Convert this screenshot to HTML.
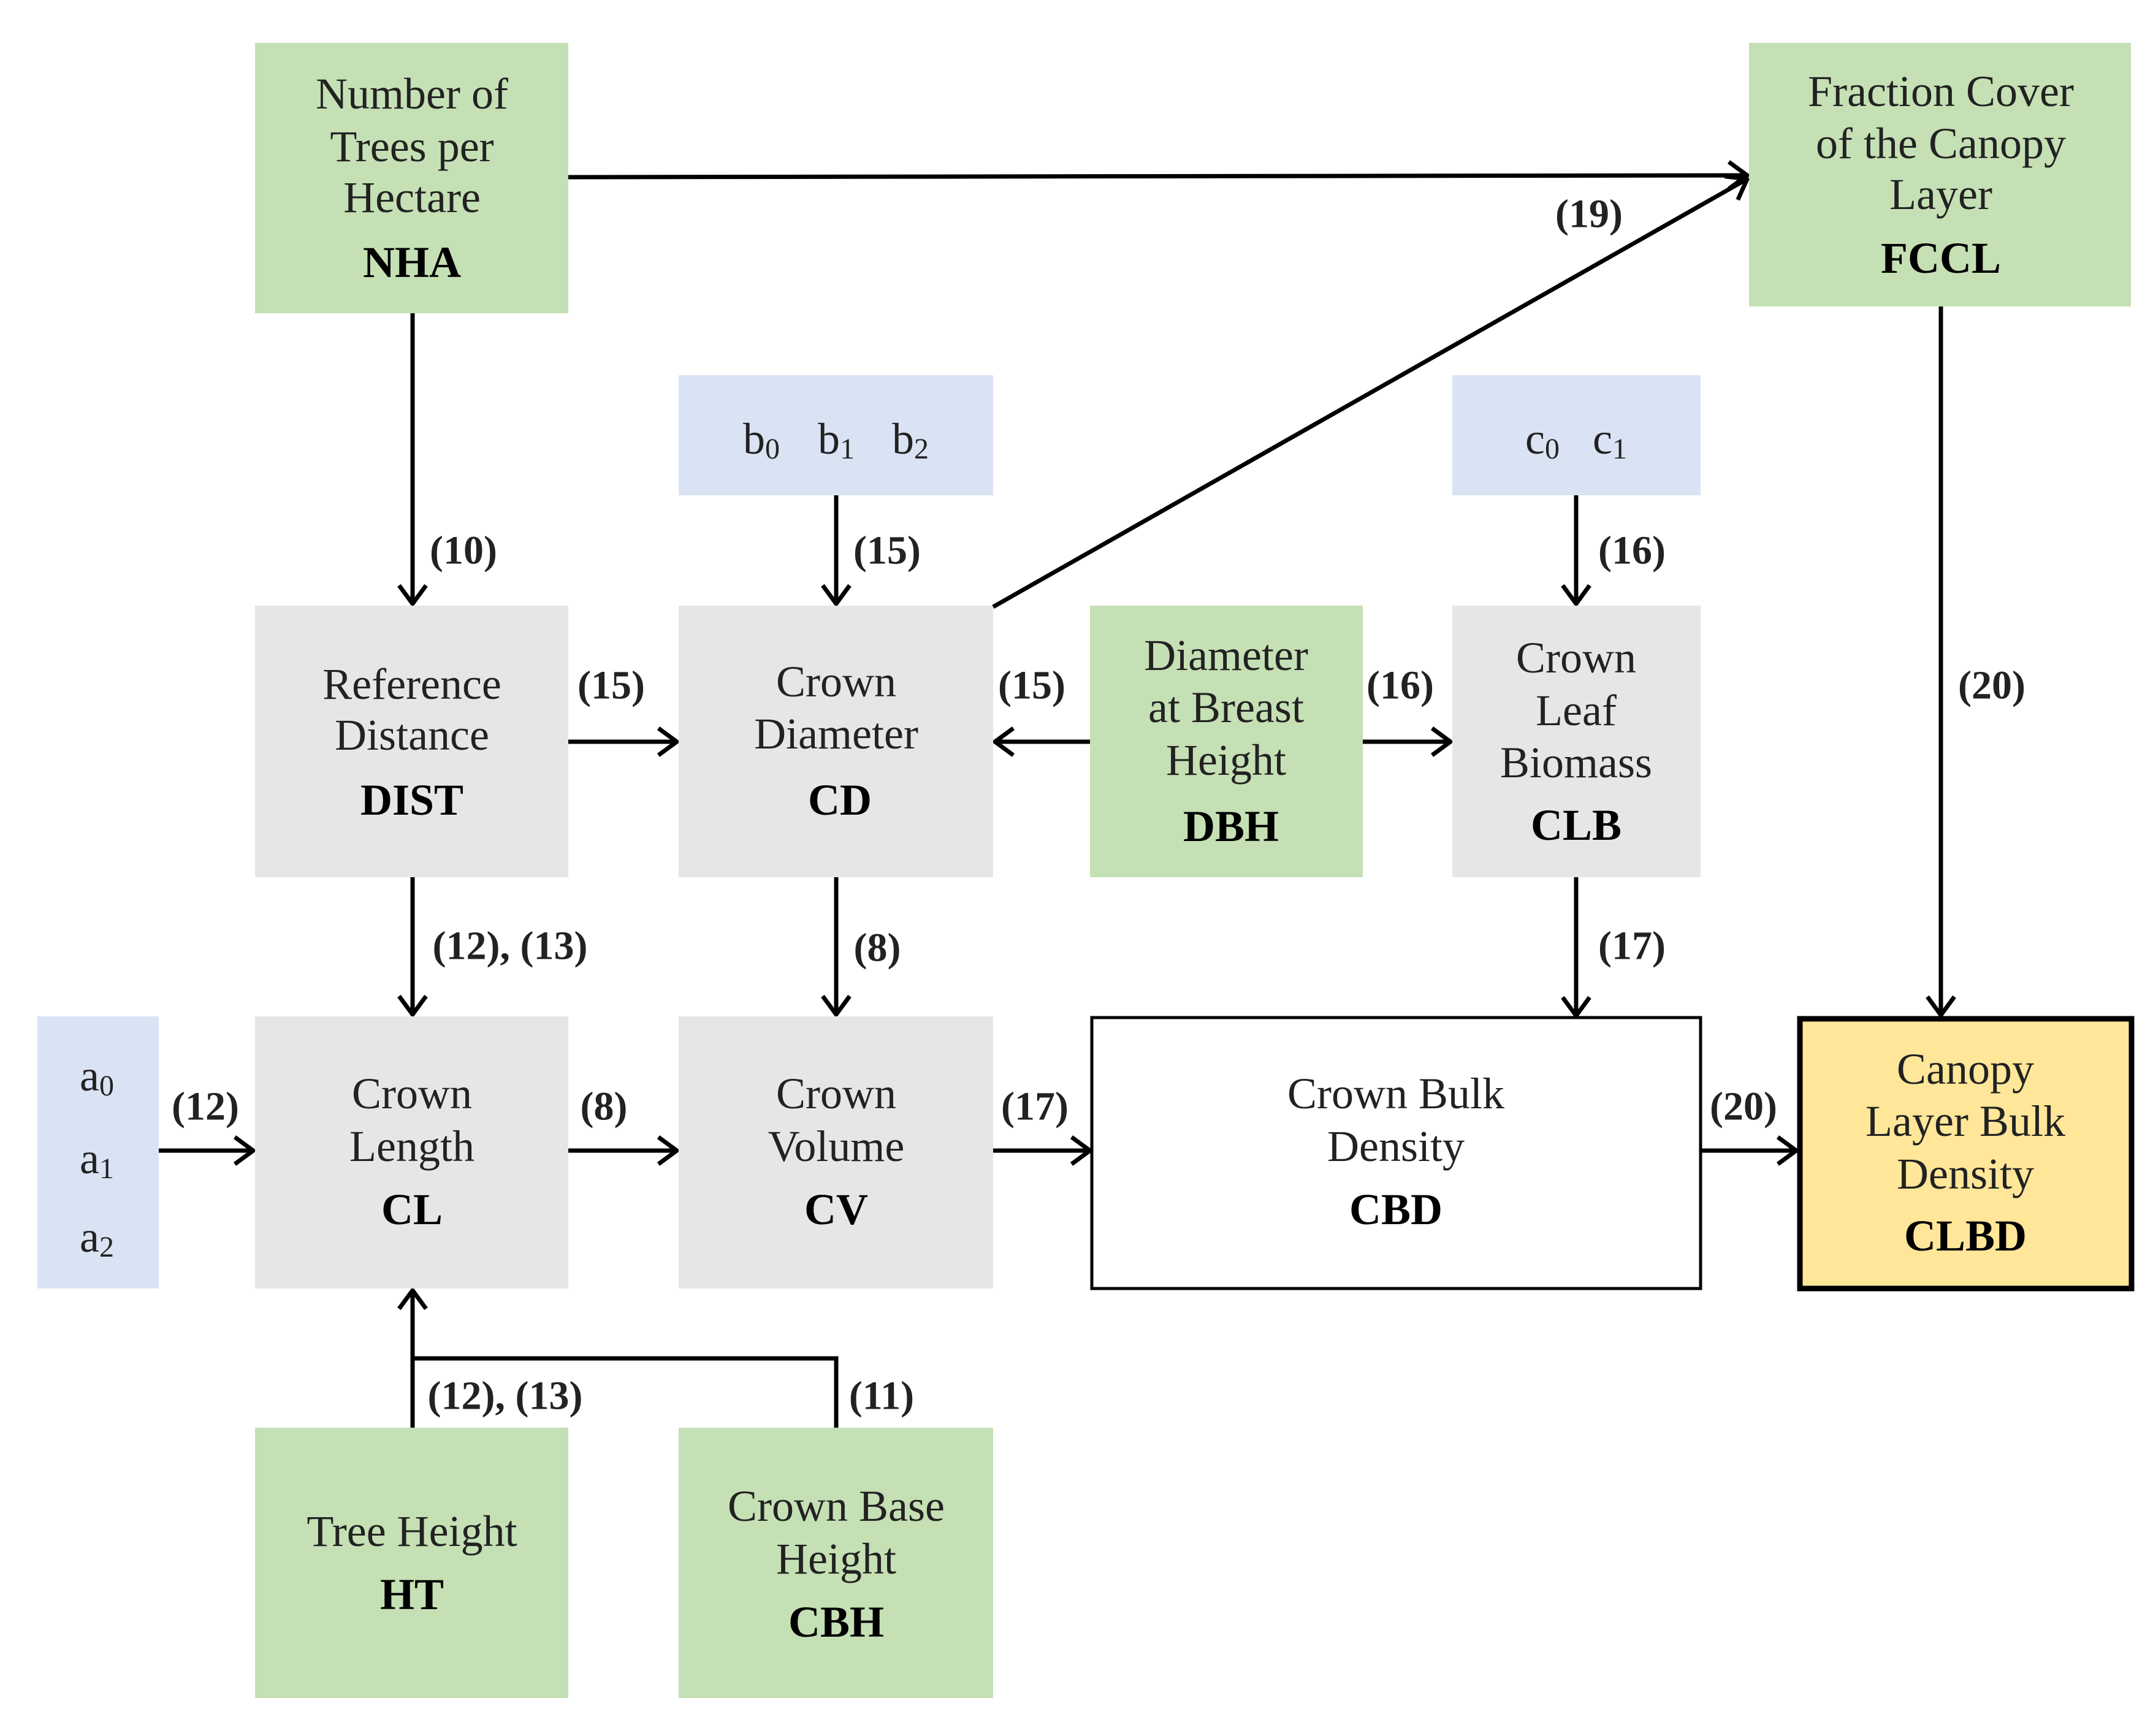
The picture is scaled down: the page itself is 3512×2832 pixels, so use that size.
<!DOCTYPE html>
<html><head><meta charset="utf-8"><style>html,body{margin:0;padding:0;background:#fff}svg{display:block}</style></head>
<body>
<svg width="3512" height="2832" viewBox="0 0 3512 2832" xmlns="http://www.w3.org/2000/svg" font-family="'Liberation Serif', serif">
<defs>
<marker id="a" viewBox="0 0 36 50" refX="33" refY="25" markerWidth="36" markerHeight="50" markerUnits="userSpaceOnUse" orient="auto">
<path d="M3 3 L33 25 L3 47" fill="none" stroke="#000" stroke-width="7"/>
</marker>
</defs>
<g stroke="none">
<rect x="416" y="70" width="511" height="441" fill="#c5e0b4"/>
<rect x="2853" y="70" width="623" height="430" fill="#c5e0b4"/>
<rect x="1107" y="612" width="513" height="196" fill="#dae3f3"/>
<rect x="2369" y="612" width="405" height="196" fill="#dae3f3"/>
<rect x="416" y="988" width="511" height="443" fill="#e7e6e6"/>
<rect x="1107" y="988" width="513" height="443" fill="#e7e6e6"/>
<rect x="1778" y="988" width="445" height="443" fill="#c5e0b4"/>
<rect x="2369" y="988" width="405" height="443" fill="#e7e6e6"/>
<rect x="61" y="1658" width="198" height="444" fill="#dae3f3"/>
<rect x="416" y="1658" width="511" height="444" fill="#e7e6e6"/>
<rect x="1107" y="1658" width="513" height="444" fill="#e7e6e6"/>
<rect x="416" y="2329" width="511" height="441" fill="#c5e0b4"/>
<rect x="1107" y="2329" width="513" height="441" fill="#c5e0b4"/>
</g>
<rect x="1781" y="1660" width="993" height="442" fill="#fff" stroke="#000" stroke-width="5"/>
<rect x="2936" y="1662" width="541" height="440" fill="#ffe699" stroke="#000" stroke-width="9"/>
<g stroke="#000" stroke-width="7" fill="none" marker-end="url(#a)">
<line x1="927" y1="289" x2="2850" y2="286"/>
<line x1="1620" y1="990" x2="2850" y2="292"/>
<line x1="673" y1="511" x2="673" y2="985"/>
<line x1="1364" y1="808" x2="1364" y2="985"/>
<line x1="2571" y1="808" x2="2571" y2="985"/>
<line x1="927" y1="1210" x2="1104" y2="1210"/>
<line x1="1778" y1="1210" x2="1623" y2="1210"/>
<line x1="2223" y1="1210" x2="2366" y2="1210"/>
<line x1="673" y1="1431" x2="673" y2="1655"/>
<line x1="1364" y1="1431" x2="1364" y2="1655"/>
<line x1="2571" y1="1431" x2="2571" y2="1657"/>
<line x1="3166" y1="500" x2="3166" y2="1656"/>
<line x1="259" y1="1877" x2="413" y2="1877"/>
<line x1="927" y1="1877" x2="1104" y2="1877"/>
<line x1="1620" y1="1877" x2="1778" y2="1877"/>
<line x1="2774" y1="1877" x2="2930" y2="1877"/>
<line x1="673" y1="2329" x2="673" y2="2105"/>
</g>
<polyline points="673,2216 1364,2216 1364,2329" fill="none" stroke="#000" stroke-width="7"/>
<g font-size="72" text-anchor="middle" dominant-baseline="central" fill="#222">
<text x="672" y="153">Number of</text><text x="672" y="239">Trees per</text><text x="672" y="322">Hectare</text>
<text x="672" y="428" font-weight="bold" fill="#000">NHA</text>
<text x="3166" y="149">Fraction Cover</text><text x="3166" y="234">of the Canopy</text><text x="3166" y="317">Layer</text>
<text x="3166" y="421" font-weight="bold" fill="#000">FCCL</text>
<text x="672" y="1116">Reference</text><text x="672" y="1199">Distance</text>
<text x="672" y="1305" font-weight="bold" fill="#000">DIST</text>
<text x="1364" y="1112">Crown</text><text x="1364" y="1197">Diameter</text>
<text x="1370" y="1305" font-weight="bold" fill="#000">CD</text>
<text x="2000" y="1069">Diameter</text><text x="2000" y="1154">at Breast</text><text x="2000" y="1240">Height</text>
<text x="2008" y="1348" font-weight="bold" fill="#000">DBH</text>
<text x="2571" y="1073">Crown</text><text x="2571" y="1159">Leaf</text><text x="2571" y="1244">Biomass</text>
<text x="2571" y="1346" font-weight="bold" fill="#000">CLB</text>
<text x="672" y="1784">Crown</text><text x="672" y="1870">Length</text>
<text x="672" y="1973" font-weight="bold" fill="#000">CL</text>
<text x="1364" y="1784">Crown</text><text x="1364" y="1870">Volume</text>
<text x="1364" y="1973" font-weight="bold" fill="#000">CV</text>
<text x="2277" y="1784">Crown Bulk</text><text x="2277" y="1870">Density</text>
<text x="2277" y="1973" font-weight="bold" fill="#000">CBD</text>
<text x="3206" y="1744">Canopy</text><text x="3206" y="1829">Layer Bulk</text><text x="3206" y="1915">Density</text>
<text x="3206" y="2016" font-weight="bold" fill="#000">CLBD</text>
<text x="672" y="2498">Tree Height</text>
<text x="672" y="2601" font-weight="bold" fill="#000">HT</text>
<text x="1364" y="2457">Crown Base</text><text x="1364" y="2543">Height</text>
<text x="1364" y="2646" font-weight="bold" fill="#000">CBH</text>
<text x="1242" y="716">b<tspan font-size="48" dy="16">0</tspan></text>
<text x="1364" y="716">b<tspan font-size="48" dy="16">1</tspan></text>
<text x="1485" y="716">b<tspan font-size="48" dy="16">2</tspan></text>
<text x="2516" y="716">c<tspan font-size="48" dy="16">0</tspan></text>
<text x="2626" y="716">c<tspan font-size="48" dy="16">1</tspan></text>
<text x="158" y="1755">a<tspan font-size="48" dy="16">0</tspan></text>
<text x="158" y="1890">a<tspan font-size="48" dy="16">1</tspan></text>
<text x="158" y="2018">a<tspan font-size="48" dy="16">2</tspan></text>
</g>
<g font-size="66" font-weight="bold" text-anchor="middle" dominant-baseline="central" fill="#222">
<text x="2592" y="349">(19)</text>
<text x="756" y="898">(10)</text>
<text x="1447" y="898">(15)</text>
<text x="2662" y="898">(16)</text>
<text x="997" y="1118">(15)</text>
<text x="1683" y="1118">(15)</text>
<text x="2284" y="1118">(16)</text>
<text x="3249" y="1118">(20)</text>
<text x="832" y="1543">(12), (13)</text>
<text x="1431" y="1546">(8)</text>
<text x="2662" y="1543">(17)</text>
<text x="335" y="1805">(12)</text>
<text x="985" y="1805">(8)</text>
<text x="1688" y="1805">(17)</text>
<text x="2844" y="1805">(20)</text>
<text x="824" y="2277">(12), (13)</text>
<text x="1438" y="2277">(11)</text>
</g>
</svg>
</body></html>
